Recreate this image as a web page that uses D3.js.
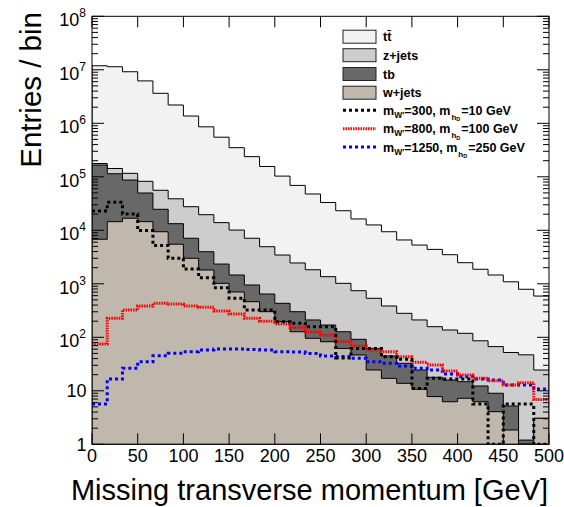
<!DOCTYPE html>
<html>
<head>
<meta charset="utf-8">
<script src="https://cdn.jsdelivr.net/npm/d3@7"></script>
<style>
  html, body { margin: 0; padding: 0; background: #fff; }
  svg { display: block; }
  text { font-family: "Liberation Sans", Arial, Helvetica, sans-serif; }
</style>
</head>
<body>
<svg id="chart" width="564" height="507"></svg>
<script>
// ---------- DATA ----------
const xMin = 0, xMax = 500, nBins = 30;
const xTicks = [0, 50, 100, 150, 200, 250, 300, 350, 400, 450, 500];
const yTickLabels = ["1", "10", "10^2", "10^3", "10^4", "10^5", "10^6", "10^7", "10^8"];

// background processes (stacked: w+jets at bottom, then tb, z+jets, tt)
const wjets = [6800, 14500, 16800, 14500, 9400, 5500, 3000, 1810, 1020, 703,
               463, 301, 196, 127, 95.8, 82.7, 62, 46.7, 24.5, 17.1,
               13.8, 10.7, 7.8, 6.25, 7.24, 6.25, 4.07, 1.85, 0, 3.06];
const tb    = [159200, 99500, 70200, 35300, 15300, 7800, 4100, 2170, 1320, 757,
               487, 344, 236, 174, 115, 87, 65, 45, 37.5, 27.6,
               18.9, 13.8, 10.1, 9.65, 7.56, 6.05, 4.93, 3.35, 1.2, 0];
const zjets = [11000, 29000, 29000, 32600, 31300, 25500, 20500, 15600, 11560, 8640,
               6150, 4285, 3018, 2149, 1619, 1190, 893, 651, 474, 340,
               248, 186.5, 140, 121, 104, 73.7, 58, 46.8, 45.8, 21.4];
const ttbar = [11720000, 11260000, 9080000, 6120000, 3580000, 2160000, 1340000, 840000, 536000, 340000,
               231000, 151000, 99600, 66600, 45900, 31700, 22200, 15560, 12060, 9015,
               6319, 5089, 4242, 3363, 2361, 1784, 1393, 1038, 743, 565.5];

// signals
const sig300 = [23000, 33400, 20200, 9900, 5200, 3000, 1890, 1300, 845, 536,
                324, 324, 196, 183, 158, 158, 41, 62, 62, 43.4,
                38.8, 11.1, 17.1, 16.6, 16.6, 5.67, 0, 5.67, 5.67, 0];
const sig800 = [75, 226, 324, 385, 432, 419, 385, 364, 310, 273,
                226, 199, 177, 152, 126, 110, 82.7, 68.8, 57.9, 53.8,
                43.4, 34.1, 30.4, 23.4, 19.7, 17.1, 15.4, 12.8, 14.2, 6.9];
const sig1250 = [5.67, 16.6, 26.3, 35, 45.3, 50.2, 53.8, 57.9, 60.4, 60.4,
                 59, 57.9, 53.8, 53.1, 49.8, 44.7, 43.8, 40.5, 35, 32.7,
                 29.1, 26.3, 24.5, 20.6, 18.3, 16.6, 15.9, 12.8, 12.8, 10.8];

// ---------- LAYOUT ----------
const svg = d3.select("#chart");
const L = 92, R = 549, T = 16.3, B = 444.3;
const x = d3.scaleLinear().domain([xMin, xMax]).range([L, R]);
const y = d3.scaleLog().domain([1, 1e8]).range([B, T]);
const binW = (xMax - xMin) / nBins;
const edges = d3.range(nBins + 1).map(i => xMin + i * binW);
const yv = v => (v > 1 ? y(v) : B);

svg.append("defs").append("clipPath").attr("id", "clip")
  .append("rect").attr("x", L).attr("y", T).attr("width", R - L).attr("height", B - T);

// stacked backgrounds
const rows = d3.range(nBins).map(i => ({ w: wjets[i], tb: tb[i], z: zjets[i], tt: ttbar[i] }));
const keys = ["w", "tb", "z", "tt"];
const fills = { w: "#c1b8ad", tb: "#686868", z: "#cdcdcd", tt: "#f2f2f2" };
const stacked = d3.stack().keys(keys)(rows);

function stepFill(tops) {
  let p = "M" + x(edges[0]) + "," + B;
  tops.forEach((v, i) => {
    p += "L" + x(edges[i]) + "," + yv(v) + "L" + x(edges[i + 1]) + "," + yv(v);
  });
  p += "L" + x(edges[nBins]) + "," + B + "Z";
  return p;
}
function stepLine(vals) {
  let p = "";
  vals.forEach((v, i) => {
    p += (i === 0 ? "M" : "L") + x(edges[i]) + "," + yv(v) + "L" + x(edges[i + 1]) + "," + yv(v);
  });
  return p;
}

const plot = svg.append("g").attr("clip-path", "url(#clip)");
stacked.slice().reverse().forEach(layer => {
  plot.append("path")
    .attr("d", stepFill(layer.map(d => d[1])))
    .attr("fill", fills[layer.key])
    .attr("stroke", "#000")
    .attr("stroke-width", 1);
});

// signal lines
const sigs = [
  { vals: sig300, color: "#000000", dash: "3,3" },
  { vals: sig800, color: "#ff0000", dash: "1.5,1" },
  { vals: sig1250, color: "#0000ff", dash: "3,3" }
];
sigs.slice().reverse().forEach(s => {
  plot.append("path")
    .attr("d", stepLine(s.vals))
    .attr("fill", "none")
    .attr("stroke", s.color)
    .attr("stroke-width", 3)
    .attr("stroke-dasharray", s.dash);
});

// ---------- FRAME & AXES ----------
const ax = svg.append("g").attr("stroke", "#000").attr("stroke-width", 1);
ax.append("rect").attr("x", L).attr("y", T).attr("width", R - L).attr("height", B - T).attr("fill", "none");

xTicks.forEach(t => {
  ax.append("line").attr("x1", x(t)).attr("x2", x(t)).attr("y1", B).attr("y2", B - 11);
  ax.append("line").attr("x1", x(t)).attr("x2", x(t)).attr("y1", T).attr("y2", T + 11);
});
for (let n = 0; n <= 8; n++) {
  const v = Math.pow(10, n);
  ax.append("line").attr("x1", L).attr("x2", L + 12).attr("y1", y(v)).attr("y2", y(v));
  ax.append("line").attr("x1", R).attr("x2", R - 12).attr("y1", y(v)).attr("y2", y(v));
  if (n < 8) {
    for (let k = 2; k <= 9; k++) {
      const m = k * v;
      ax.append("line").attr("x1", L).attr("x2", L + 6).attr("y1", y(m)).attr("y2", y(m));
      ax.append("line").attr("x1", R).attr("x2", R - 6).attr("y1", y(m)).attr("y2", y(m));
    }
  }
}

// x labels
svg.append("g").selectAll("text").data(xTicks).join("text")
  .attr("x", d => x(d)).attr("y", B + 18)
  .attr("text-anchor", "middle").attr("font-size", 18).text(d => d);

// y labels
yTickLabels.forEach((lab, n) => {
  const yy = y(Math.pow(10, n));
  if (lab.indexOf("^") < 0) {
    svg.append("text").attr("x", 86.5).attr("y", yy + 6.5)
      .attr("text-anchor", "end").attr("font-size", 18).text(lab);
  } else {
    const parts = lab.split("^");
    const t = svg.append("text").attr("x", 86).attr("y", yy + 10)
      .attr("text-anchor", "end").attr("font-size", 18);
    t.append("tspan").text(parts[0]);
    t.append("tspan").attr("font-size", 12).attr("dy", -9).text(parts[1]);
  }
});

// axis titles
svg.append("text").attr("x", 548).attr("y", 500).attr("text-anchor", "end")
  .attr("font-size", 29).text("Missing transverse momentum [GeV]");
svg.append("text").attr("transform", "translate(41,12) rotate(-90)")
  .attr("text-anchor", "end").attr("font-size", 29.5).text("Entries / bin");

// ---------- LEGEND ----------
const lg = svg.append("g");
const boxLabels = [["tt\u0304", "tt"], ["z+jets", "z"], ["tb", "tb"], ["w+jets", "w"]];
const boxY = [36.7, 55.2, 74, 92.7];
boxLabels.forEach(([lab, key], i) => {
  lg.append("rect").attr("x", 343).attr("y", boxY[i] - 6.5).attr("width", 33).attr("height", 13)
    .attr("fill", fills[key]).attr("stroke", "#222").attr("stroke-width", 1);
  lg.append("text").attr("x", 383).attr("y", boxY[i] + 4.5)
    .attr("font-size", 12.5).attr("font-weight", "bold").text(lab);
});
const sigLabels = [["300", "10"], ["800", "100"], ["1250", "250"]];
const lineY = [110.3, 128.7, 147];
sigLabels.forEach(([mw, mh], i) => {
  lg.append("line").attr("x1", 343).attr("x2", 376).attr("y1", lineY[i]).attr("y2", lineY[i])
    .attr("stroke", sigs[i].color).attr("stroke-width", 3).attr("stroke-dasharray", sigs[i].dash);
  const t = lg.append("text").attr("x", 383).attr("y", lineY[i] + 4.5)
    .attr("font-size", 12.5).attr("font-weight", "bold");
  t.append("tspan").text("m");
  t.append("tspan").attr("font-size", 8.5).attr("dy", 3).text("W'");
  t.append("tspan").attr("dy", -3).text("=" + mw + ", m");
  t.append("tspan").attr("font-size", 8).attr("dy", 5).attr("dx", 1).text("h");
  t.append("tspan").attr("font-size", 5.5).attr("dy", 1.5).text("D");
  t.append("tspan").attr("dy", -6.5).attr("dx", 1).text("=" + mh + " GeV");
});
</script>
</body>
</html>
